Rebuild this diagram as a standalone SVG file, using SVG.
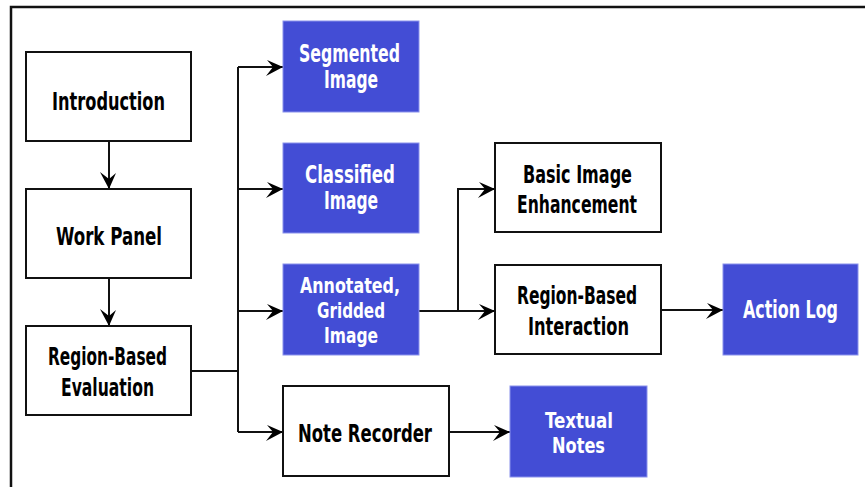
<svg xmlns="http://www.w3.org/2000/svg" width="865" height="487" viewBox="0 0 865 487">
<style>
.w{fill:#fff;stroke:#111;stroke-width:2}
.b{fill:#434dd5;stroke:#8a92ec;stroke-width:1}
text{font-family:"DejaVu Sans Condensed","DejaVu Sans","Liberation Sans",sans-serif;font-weight:bold;font-size:24px;text-anchor:middle}
.s{font-size:21px}
.tk{fill:#000}
.tw{fill:#fff}
.c{fill:none;stroke:#111;stroke-width:2}
</style>
<defs>
<marker id="ah" viewBox="-19 -11 21 22" refX="0" refY="0" markerWidth="21" markerHeight="22" markerUnits="userSpaceOnUse" orient="auto">
<path d="M0,0 L-16,-7 L-10,0 L-17,9 Z" fill="#000"/>
</marker>
</defs>
<rect width="865" height="487" fill="#fff"/>
<path d="M11,487 V7 H865" fill="none" stroke="#111" stroke-width="2.5"/>
<g id="connectors">
<path class="c" d="M109,141 V189" marker-end="url(#ah)"/>
<path class="c" d="M109,278 V326" marker-end="url(#ah)"/>
<path class="c" d="M191,371 H238"/>
<path class="c" d="M238,67 V432"/>
<path class="c" d="M238,67 H283" marker-end="url(#ah)"/>
<path class="c" d="M238,189 H283" marker-end="url(#ah)"/>
<path class="c" d="M238,311 H283" marker-end="url(#ah)"/>
<path class="c" d="M238,432 H283" marker-end="url(#ah)"/>
<path class="c" d="M419,311 H495" marker-end="url(#ah)"/>
<path class="c" d="M458,311 V189 H495" marker-end="url(#ah)"/>
<path class="c" d="M661,310 H723" marker-end="url(#ah)"/>
<path class="c" d="M449,432 H510" marker-end="url(#ah)"/>
</g>
<g id="introduction">
<rect class="w" x="26" y="52" width="165" height="89"/>
<text class="tk" x="108.5" y="110" textLength="113" lengthAdjust="spacingAndGlyphs">Introduction</text>
</g>
<g id="work-panel">
<rect class="w" x="26" y="189" width="165" height="89"/>
<text class="tk" x="109" y="245" textLength="106" lengthAdjust="spacingAndGlyphs">Work Panel</text>
</g>
<g id="region-based-evaluation">
<rect class="w" x="26" y="326" width="165" height="89"/>
<text class="tk" x="107.5" y="365" textLength="119" lengthAdjust="spacingAndGlyphs">Region-Based</text>
<text class="tk" x="107.5" y="396" textLength="93" lengthAdjust="spacingAndGlyphs">Evaluation</text>
</g>
<g id="segmented-image">
<rect class="b" x="283" y="21" width="136" height="91"/>
<text class="tw" x="349.5" y="62" textLength="101" lengthAdjust="spacingAndGlyphs">Segmented</text>
<text class="tw" x="351" y="88" textLength="54" lengthAdjust="spacingAndGlyphs">Image</text>
</g>
<g id="classified-image">
<rect class="b" x="283" y="143" width="136" height="90"/>
<text class="tw" x="350" y="183" textLength="90" lengthAdjust="spacingAndGlyphs">Classified</text>
<text class="tw" x="351" y="209" textLength="54" lengthAdjust="spacingAndGlyphs">Image</text>
</g>
<g id="annotated-gridded-image">
<rect class="b" x="283" y="264" width="136" height="91"/>
<text class="tw s" x="350" y="293" textLength="100" lengthAdjust="spacingAndGlyphs">Annotated,</text>
<text class="tw s" x="351" y="318" textLength="68" lengthAdjust="spacingAndGlyphs">Gridded</text>
<text class="tw s" x="351" y="343" textLength="54" lengthAdjust="spacingAndGlyphs">Image</text>
</g>
<g id="note-recorder">
<rect class="w" x="283" y="386" width="166" height="90"/>
<text class="tk" x="365" y="442" textLength="134" lengthAdjust="spacingAndGlyphs">Note Recorder</text>
</g>
<g id="basic-image-enhancement">
<rect class="w" x="495" y="143" width="166" height="89"/>
<text class="tk" x="577.5" y="183" textLength="109" lengthAdjust="spacingAndGlyphs">Basic Image</text>
<text class="tk" x="577" y="213" textLength="120" lengthAdjust="spacingAndGlyphs">Enhancement</text>
</g>
<g id="region-based-interaction">
<rect class="w" x="495" y="265" width="166" height="89"/>
<text class="tk" x="577" y="304" textLength="120" lengthAdjust="spacingAndGlyphs">Region-Based</text>
<text class="tk" x="578.5" y="335" textLength="101" lengthAdjust="spacingAndGlyphs">Interaction</text>
</g>
<g id="action-log">
<rect class="b" x="723" y="264" width="135" height="91"/>
<text class="tw" x="790.5" y="318" font-size="22" textLength="95" lengthAdjust="spacingAndGlyphs">Action Log</text>
</g>
<g id="textual-notes">
<rect class="b" x="510" y="386" width="137" height="91"/>
<text class="tw s" x="579" y="428" textLength="68" lengthAdjust="spacingAndGlyphs">Textual</text>
<text class="tw s" x="578.5" y="453" textLength="53" lengthAdjust="spacingAndGlyphs">Notes</text>
</g>
</svg>
